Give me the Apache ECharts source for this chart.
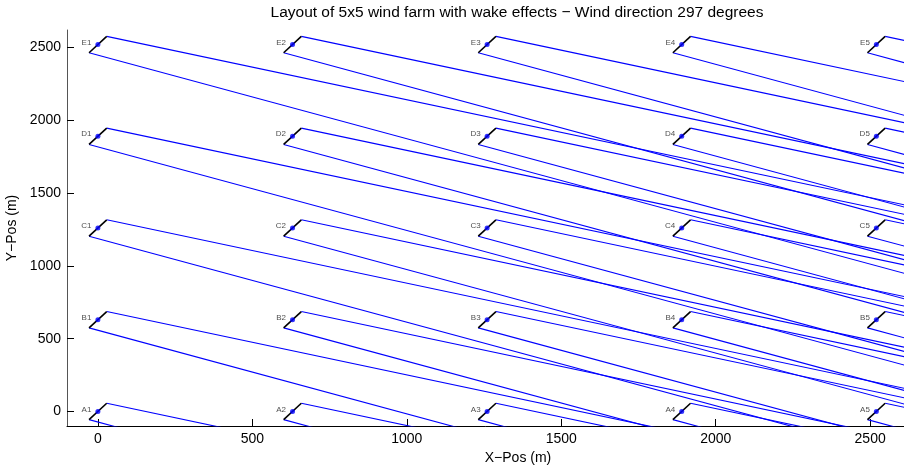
<!DOCTYPE html>
<html>
<head>
<meta charset="utf-8">
<title>Wind farm wake layout</title>
<script src="https://cdn.jsdelivr.net/npm/echarts@6/dist/echarts.min.js"></script>
<style>
  html, body { margin: 0; padding: 0; background: #fff; }
  #chart { width: 904px; height: 467px; }
</style>
</head>
<body>
<div id="chart"></div>
<script>
// turbine grid (m)
const rowNames = ['A', 'B', 'C', 'D', 'E']
const colX = [0, 630, 1260, 1890, 2520]
const rowY = [0, 630, 1260, 1890, 2520]

// wake model parameters
const windDirection = 297   // degrees, wind coming from
const rotorDiameter = 126   // m
const wakeDecay = 0.05      // linear wake expansion
const wakeLength = 4000     // m, long enough to leave the plot

// axes
const xRange = [-100, 2820]
const yRange = [-100, 2620]
const xTicks = [0, 500, 1000, 1500, 2000, 2500]
const yTicks = [0, 500, 1000, 1500, 2000, 2500]

const FONT = 'Liberation Sans, Arial, Helvetica, sans-serif'

// flow direction (wind blows towards windDirection - 180) and rotor axis
const toRad = Math.PI / 180
const b = (windDirection - 180) * toRad
const flow = [Math.sin(b), Math.cos(b)]
const perp = [-flow[1], flow[0]]
const R = rotorDiameter / 2

const turbines = []
rowNames.forEach((r, i) => {
  colX.forEach((x, j) => {
    turbines.push({ name: r + (j + 1), x: x, y: rowY[i] })
  })
})

const series = []
turbines.forEach(t => {
  const top = [t.x + perp[0] * R, t.y + perp[1] * R]
  const bot = [t.x - perp[0] * R, t.y - perp[1] * R]
  const L = wakeLength
  const wr = R + wakeDecay * L
  const topEnd = [t.x + flow[0] * L + perp[0] * wr, t.y + flow[1] * L + perp[1] * wr]
  const botEnd = [t.x + flow[0] * L - perp[0] * wr, t.y + flow[1] * L - perp[1] * wr]
  ;[[top, topEnd], [bot, botEnd]].forEach(seg => {
    series.push({
      type: 'line', data: seg, showSymbol: false, silent: true, clip: true,
      lineStyle: { color: '#0000ff', width: 1.1 }, z: 2
    })
  })
  // rotor
  series.push({
    type: 'line', data: [bot, top], showSymbol: false, silent: true,
    lineStyle: { color: '#000000', width: 1.6 }, z: 3
  })
})

series.push({
  type: 'scatter',
  data: turbines.map(t => ({ name: t.name, value: [t.x, t.y] })),
  symbolSize: 5,
  itemStyle: { color: '#0000ff' },
  z: 4,
  label: {
    show: true, position: 'left', distance: 4, offset: [0, -2],
    formatter: p => p.name, fontSize: 8, color: '#222', fontFamily: FONT
  }
})

const chart = echarts.init(document.getElementById('chart'))
chart.setOption({
  animation: false,
  backgroundColor: '#fff',
  grid: { left: 67, top: 30, width: 902, height: 396, containLabel: false, outerBoundsMode: 'none' },
  graphic: [{
    type: 'text',
    style: {
      x: 517, y: 13,
      text: 'Layout of 5x5 wind farm with wake effects \u2212 Wind direction 297 degrees',
      font: '15.5px ' + FONT, fill: '#000', align: 'center', verticalAlign: 'middle'
    }
  }],
  xAxis: {
    type: 'value', min: xRange[0], max: xRange[1],
    name: 'X\u2212Pos (m)', nameLocation: 'middle', nameGap: 24,
    nameTextStyle: { fontSize: 14, color: '#000', fontFamily: FONT },
    axisLine: { onZero: false, lineStyle: { color: '#000', width: 1 } },
    axisTick: { inside: true, length: 7, customValues: xTicks, lineStyle: { color: '#000' } },
    axisLabel: { customValues: xTicks, formatter: v => String(v), margin: 6, fontSize: 14, color: '#000', fontFamily: FONT },
    splitLine: { show: false }
  },
  yAxis: {
    type: 'value', min: yRange[0], max: yRange[1],
    name: 'Y\u2212Pos (m)', nameLocation: 'middle', nameGap: 48,
    nameTextStyle: { fontSize: 14, color: '#000', fontFamily: FONT },
    axisLine: { show: true, onZero: false, lineStyle: { color: '#555', width: 1 } },
    axisTick: { show: true, inside: true, length: 7, customValues: yTicks, lineStyle: { color: '#000' } },
    axisLabel: { customValues: yTicks, formatter: v => String(v), margin: 6, fontSize: 14, color: '#000', fontFamily: FONT },
    splitLine: { show: false }
  },
  series: series
})
</script>
</body>
</html>
